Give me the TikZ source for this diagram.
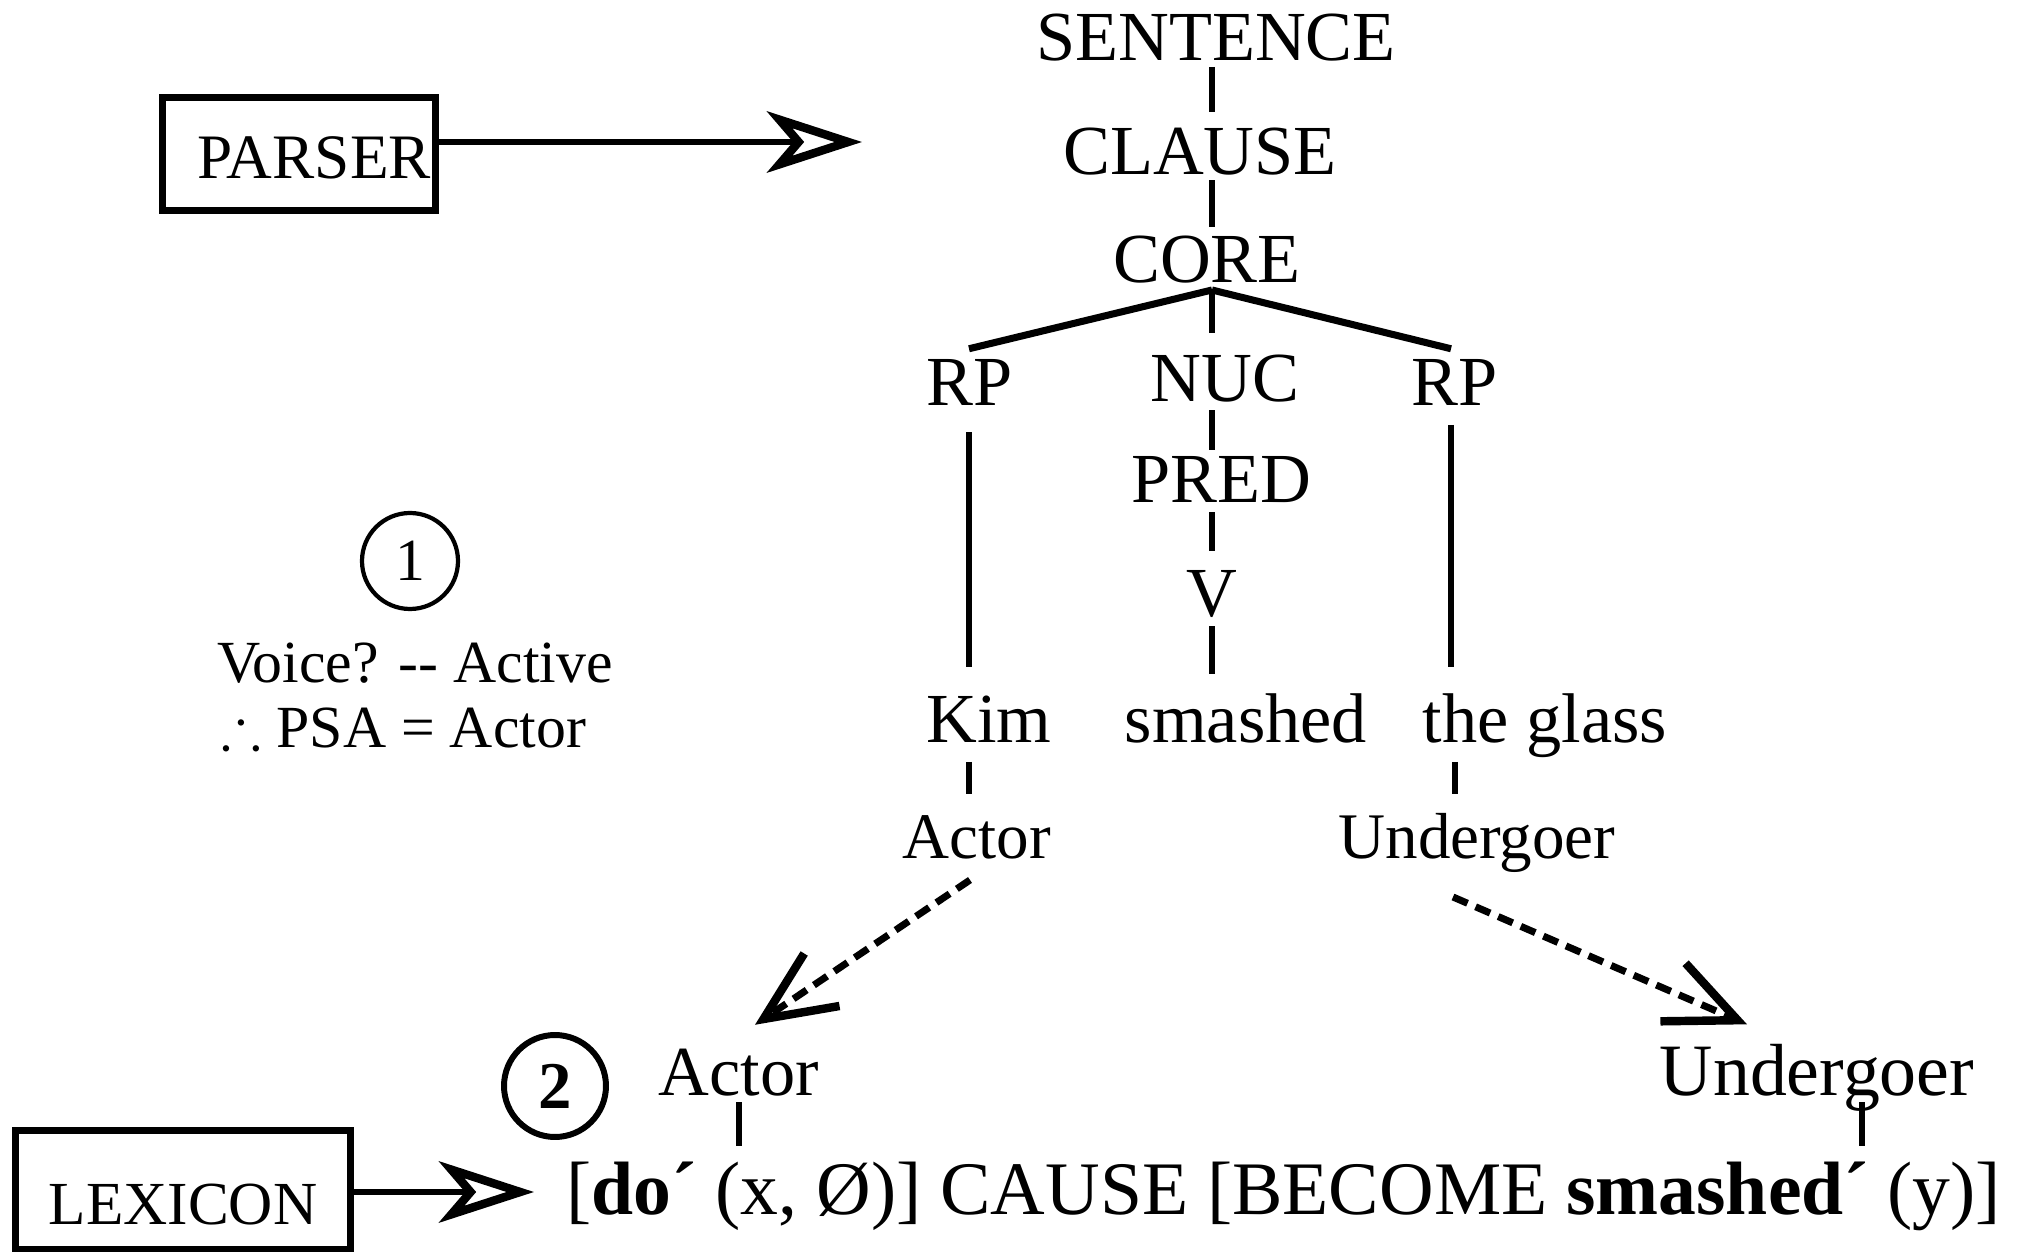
\documentclass[tikz,border=0pt]{standalone}
\usepackage{fontspec}
\usepackage{amssymb}
\setmainfont{Liberation Serif}
\usetikzlibrary{arrows.meta,calc}

\begin{document}
\begin{tikzpicture}[x=0.01cm,y=-0.01cm,
  lbl/.style={inner sep=0pt, anchor=base, text depth=0pt},
  treelbl/.style={lbl, text height=13.8pt, font=\fontsize{20}{24}\selectfont},
  rolelbl/.style={lbl, text height=12.8pt, font=\fontsize{18.5}{22}\selectfont},
  notelbl/.style={lbl, text height=11.7pt, font=\fontsize{17}{20}\selectfont},
  branch/.style={line width=1.7pt},
  fan/.style={line width=2pt},
  feed/.style={line width=1.7pt, -{Stealth[open, length=27pt, width=17.4pt, inset=7.4pt, line width=2.4pt]}},
  link/.style={line width=2pt, dash pattern=on 4.5pt off 2.5pt, -{Straight Barb[length=20pt, width=18pt, line width=2.4pt]}},
  framebox/.style={draw, line width=2pt, inner sep=0pt},
  marker/.style={draw, circle, inner sep=0pt}
]
\useasboundingbox (0,0) rectangle (2032,1252);

% ---------- syntactic tree ----------
\node[treelbl] (sentence) at (1216,61) {SENTENCE};
\node[treelbl] (clause) at (1200,175) {CLAUSE};
\node[treelbl] (core) at (1207,283) {CORE};
\node[treelbl] (rpl) at (970,406) {RP};
\node[treelbl] (nuc) at (1225,402) {NUC};
\node[treelbl] (rpr) at (1455,406) {RP};
\node[treelbl] (pred) at (1221,503) {PRED};
\node[treelbl] (verb) at (1212,617) {V};
\node[treelbl] (kim) at (989,743) {Kim};
\node[treelbl] (smashed) at (1246,743) {smashed};
\node[treelbl] (glass) at (1545,743) {the glass};
\node[rolelbl] (actor) at (977,859) {Actor};
\node[rolelbl] (undergoer) at (1477,859) {Undergoer};

\coordinate (spine) at (1212,0);
\draw[branch, shorten <=1.7pt, shorten >=3.8pt] (sentence.base -| spine) -- (clause.north -| spine);
\draw[branch, shorten <=1.5pt, shorten >=1.9pt] (clause.base -| spine) -- (core.north -| spine);
\coordinate (fork) at ($(core.base -| spine)+(0,7)$);
\draw[branch, shorten >=5.5pt] (fork) -- (nuc.north -| spine);
\draw[fan] (fork) -- ($(rpl.north)+(-1,-8)$);
\draw[fan] (fork) -- ($(rpr.north)+(-4,-8)$);
\draw[branch, shorten <=2.3pt, shorten >=1pt] (nuc.base -| spine) -- (pred.north -| spine);
\draw[branch, shorten <=2.6pt, shorten >=4.8pt] (pred.base -| spine) -- (verb.north -| spine);
\draw[branch, shorten <=2.6pt, shorten >=5.7pt] (verb.base -| spine) -- (smashed.north -| spine);
\draw[branch, shorten <=7.4pt, shorten >=7.7pt] ($(rpl.base)+(-1,0)$) -- ($(rpl.base |- kim.north)+(-1,0)$);
\draw[branch, shorten <=5.4pt, shorten >=7.7pt] ($(rpr.base)+(-4,0)$) -- ($(rpr.base |- glass.north)+(-4,0)$);
\draw[branch, shorten <=5.4pt, shorten >=5.6pt] ($(kim.base -| rpl.base)+(-1,0)$) -- ($(actor.north -| rpl.base)+(-1,0)$);
\draw[branch, shorten <=5.4pt, shorten >=5.6pt] (glass.base -| rpr.base) -- (undergoer.north -| rpr.base);

% ---------- logical structure ----------
\node[lbl, text height=13.8pt, font=\fontsize{20}{24}\selectfont] (actor2) at (739,1095) {Actor};
\node[lbl, text height=14.5pt, font=\fontsize{21}{25}\selectfont] (undergoer2) at (1817,1095) {Undergoer};
\node[lbl, text height=14.8pt, anchor=base west, font=\fontsize{21.5}{26}\selectfont] (formula) at (566,1214)
  {[\textbf{do´} (x, Ø)] CAUSE [BECOME \textbf{smashed´} (y)]};
\coordinate (ylink) at (1862,0);
\draw[branch, shorten <=2pt, shorten >=4.3pt] (actor2.base) -- (actor2.base |- formula.north);
\draw[branch, shorten <=2pt, shorten >=4.3pt] (undergoer2.base -| ylink) -- (formula.north -| ylink);

% ---------- linking ----------
\draw[link] ($(actor.base)+(-7,21)$) -- ($(actor2.north)+(16,-21)$);
\draw[link] ($(undergoer.base)+(-24,38)$) -- ($(undergoer2.north)+(-70,-19)$);

% ---------- components ----------
\node[framebox, minimum width=77.4pt, minimum height=32.4pt, font=\fontsize{18}{20}\selectfont,
      text height=14.2pt, text depth=0pt, text width=75pt, align=right, inner xsep=1pt] (parser) at (299,154) {PARSER};
\coordinate (treein) at (862,142);
\draw[feed] (parser.east |- treein) -- (treein);

\node[framebox, minimum width=95pt, minimum height=33.6pt, font=\fontsize{17.4}{20}\selectfont,
      text height=19.9pt, text depth=0pt] (lexicon) at (183,1190) {LEXICON};
\coordinate (lexin) at (534,1192);
\draw[feed] (lexicon.east |- lexin) -- (lexin);

% ---------- step markers ----------
\node[marker, minimum size=27.3pt, line width=1.2pt, font=\fontsize{17}{20}\selectfont] (markone) at (410,561) {1};
\node[notelbl] (voice) at (415,683) {Voice? -{}- Active};
\node[notelbl] (psa) at (404,748) {$\therefore$ PSA = Actor};
\node[marker, minimum size=29pt, line width=1.7pt, font=\fontsize{19}{22}\selectfont\bfseries] (marktwo) at (555,1086) {2};
\end{tikzpicture}
\end{document}
